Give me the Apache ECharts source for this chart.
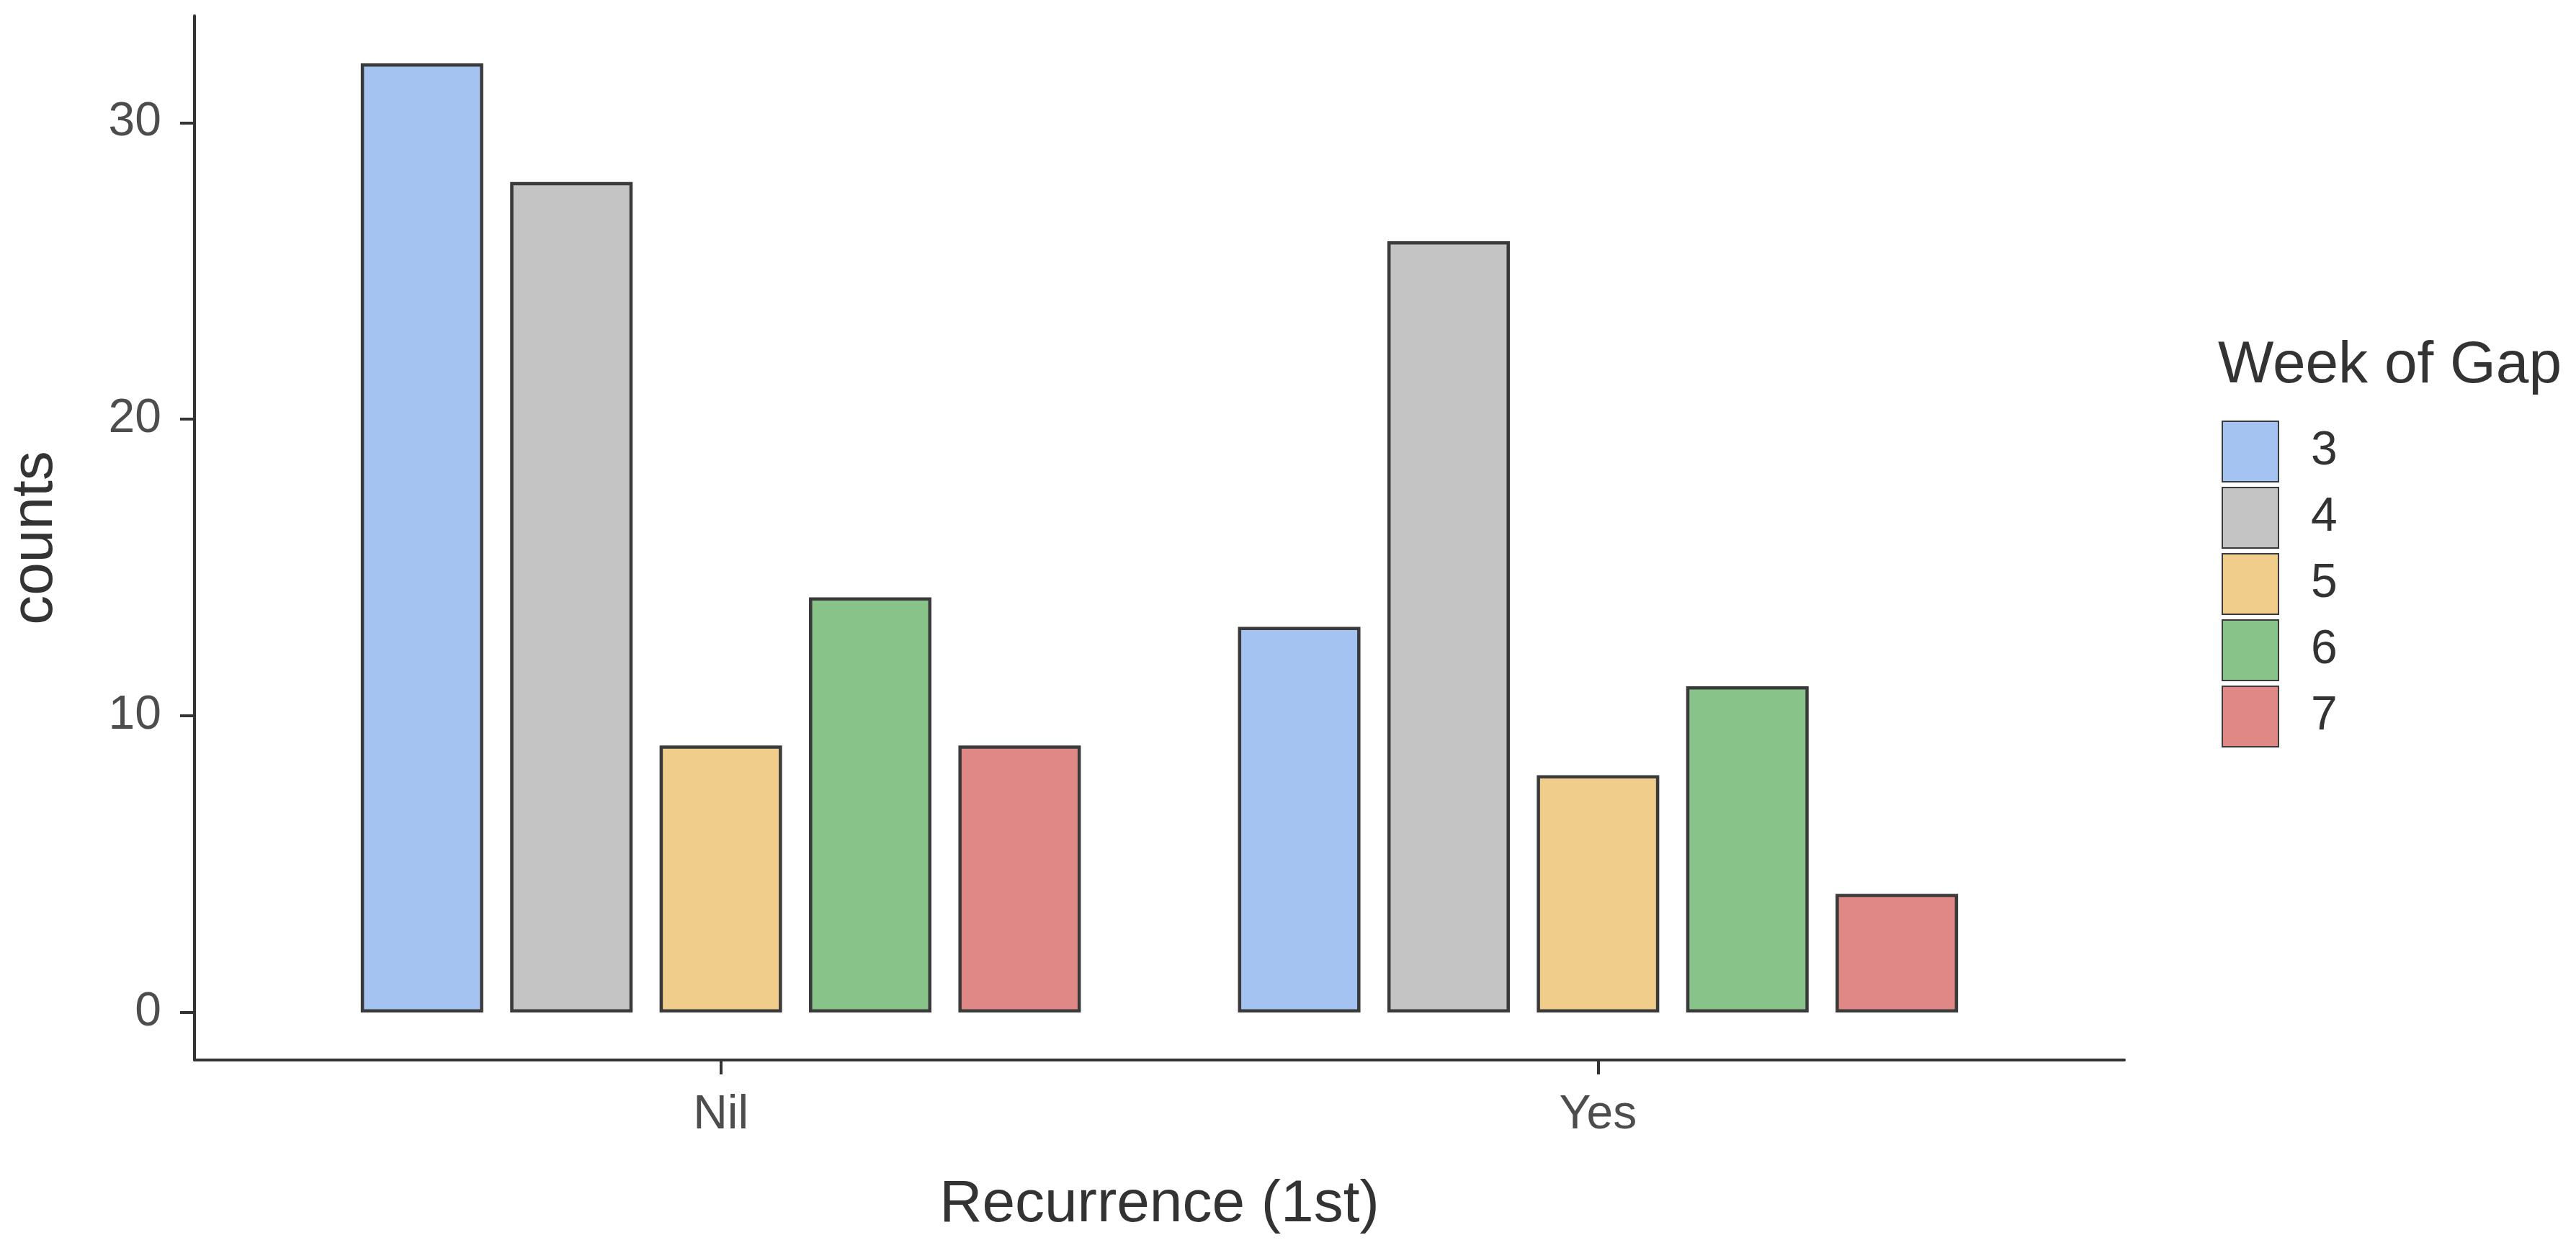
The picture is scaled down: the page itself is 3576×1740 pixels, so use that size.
<!DOCTYPE html>
<html>
<head>
<meta charset="utf-8">
<script src="https://cdn.jsdelivr.net/npm/echarts@6/dist/echarts.min.js"></script>
<style>
html,body{margin:0;padding:0;background:#fff;}
#chart{width:3576px;height:1740px;}
</style>
</head>
<body>
<div id="chart"></div>
<script>
// ---- data ----
const categories = ['Nil', 'Yes'];
const weeks = ['3', '4', '5', '6', '7'];
const week3 = [32, 13];
const week4 = [28, 26];
const week5 = [9, 8];
const week6 = [14, 11];
const week7 = [9, 4];
const yTicks = [0, 10, 20, 30];
const colors = ['#A5C3F0', '#C4C4C4', '#F0CD8B', '#88C38A', '#E08886'];

const seriesValues = [week3, week4, week5, week6, week7];
const catPositions = categories.map((c, i) => i + 1);

const font = '"Liberation Sans", Arial, sans-serif';
const chart = echarts.init(document.getElementById('chart'), null, {renderer: 'canvas'});

const series = weeks.map((w, k) => ({
  name: w,
  type: 'bar',
  barWidth: 170,
  barGap: '22%',
  data: seriesValues[k].map((v, i) => [catPositions[i], v]),
  itemStyle: {color: colors[k], borderColor: '#3A3A3A', borderWidth: 4.5},
  emphasis: {disabled: true}
}));

chart.setOption({
  animation: false,
  backgroundColor: '#ffffff',
  title: {
    text: 'Week of Gap',
    left: 3074,
    top: 462,
    textStyle: {fontFamily: font, fontSize: 82, fontWeight: 'normal', color: '#333333'}
  },
  legend: {
    orient: 'vertical',
    left: 3079,
    top: 579,
    itemWidth: 78,
    itemHeight: 84,
    itemGap: 6,
    icon: 'rect',
    data: weeks,
    textStyle: {fontFamily: font, fontSize: 66, color: '#333333', padding: [0, 0, 0, 40]}
  },
  grid: {left: 258, right: 627, top: 22, bottom: 268, containLabel: false},
  xAxis: {
    type: 'value',
    min: 0.4,
    max: 2.6,
    name: 'Recurrence (1st)',
    nameLocation: 'middle',
    nameGap: 160,
    nameTextStyle: {fontFamily: font, fontSize: 82, color: '#333333'},
    axisLine: {show: true, onZero: false, lineStyle: {color: '#333333', width: 4}},
    axisTick: {show: true, length: 20, lineStyle: {color: '#333333', width: 4}, customValues: catPositions},
    axisLabel: {
      customValues: catPositions,
      margin: 44,
      fontFamily: font, fontSize: 66, color: '#4D4D4D',
      formatter: (v) => categories[Math.round(v) - 1] || ''
    },
    splitLine: {show: false}
  },
  yAxis: {
    type: 'value',
    min: -1.6,
    max: 33.6,
    name: 'counts',
    nameLocation: 'middle',
    nameRotate: 90,
    nameGap: 180,
    nameTextStyle: {fontFamily: font, fontSize: 82, color: '#333333'},
    axisLine: {show: true, lineStyle: {color: '#333333', width: 4}},
    axisTick: {show: true, length: 20, lineStyle: {color: '#333333', width: 4}, customValues: yTicks},
    axisLabel: {customValues: yTicks, margin: 46, fontFamily: font, fontSize: 66, color: '#4D4D4D'},
    splitLine: {show: false}
  },
  series: series
});
</script>
</body>
</html>
